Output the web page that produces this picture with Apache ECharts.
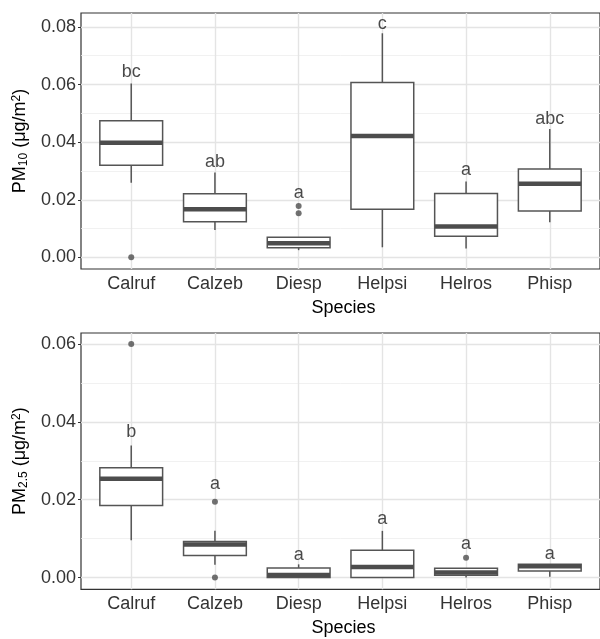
<!DOCTYPE html>
<html><head><meta charset="utf-8">
<script src="https://cdn.jsdelivr.net/npm/echarts@6/dist/echarts.min.js"></script>
<style>html,body{margin:0;padding:0;background:#fff}#c{width:600px;height:639px}</style>
</head><body><div id="c"></div>
<script>
const species = ['Calruf', 'Calzeb', 'Diesp', 'Helpsi', 'Helros', 'Phisp'];

// PM10 panel: [lower whisker, Q1, median, Q3, upper whisker]
const pm10Stats = [
  [0.0259, 0.0320, 0.0398, 0.0474, 0.0604],
  [0.0095, 0.0124, 0.0167, 0.0221, 0.0295],
  [0.0025, 0.0033, 0.0049, 0.0070, 0.0070],
  [0.0035, 0.0167, 0.0421, 0.0607, 0.0778],
  [0.0031, 0.0073, 0.0107, 0.0222, 0.0263],
  [0.0122, 0.0161, 0.0256, 0.0307, 0.0446]
];
const pm10OutlierSpecies = ['Calruf', 'Diesp', 'Diesp'];
const pm10OutlierValues = [0.0000, 0.0178, 0.0153];
const pm10Letters = ['bc', 'ab', 'a', 'c', 'a', 'abc'];
const pm10LetterY = [0.0643, 0.0330, 0.0223, 0.0811, 0.0302, 0.0481];
const pm10Ticks = [0, 0.02, 0.04, 0.06, 0.08];
const pm10Minor = [0.01, 0.03, 0.05, 0.07];
const pm10Range = [-0.00404, 0.08484];

// PM2.5 panel
const pm25Stats = [
  [0.0096, 0.0185, 0.0254, 0.0282, 0.0339],
  [0.0033, 0.0057, 0.0085, 0.0093, 0.0120],
  [0.0000, 0.0000, 0.0007, 0.0025, 0.0034],
  [0.0000, 0.0000, 0.0027, 0.0070, 0.0120],
  [0.0000, 0.0006, 0.0013, 0.0024, 0.0024],
  [0.0002, 0.0017, 0.0029, 0.0034, 0.0034]
];
const pm25OutlierSpecies = ['Calruf', 'Calzeb', 'Calzeb', 'Helros'];
const pm25OutlierValues = [0.0600, 0.0195, 0.0000, 0.0051];
const pm25Letters = ['b', 'a', 'a', 'a', 'a', 'a'];
const pm25LetterY = [0.0375, 0.0240, 0.0058, 0.0150, 0.0086, 0.0060];
const pm25Ticks = [0, 0.02, 0.04, 0.06];
const pm25Minor = [0.01, 0.03, 0.05];
const pm25Range = [-0.0030, 0.0628];

const FONT = 'Liberation Sans, Arial, sans-serif';
const positions = species.map((s, i) => i + 1);

const panels = [
  { stats: pm10Stats, oSp: pm10OutlierSpecies, oV: pm10OutlierValues, letters: pm10Letters, letterY: pm10LetterY,
    ticks: pm10Ticks, minor: pm10Minor, range: pm10Range, sub: '10', top: 13, height: 256 },
  { stats: pm25Stats, oSp: pm25OutlierSpecies, oV: pm25OutlierValues, letters: pm25Letters, letterY: pm25LetterY,
    ticks: pm25Ticks, minor: pm25Minor, range: pm25Range, sub: '2.5', top: 333, height: 256.3 }
];

const grids = [], xAxes = [], yAxes = [], series = [];
panels.forEach((p, k) => {
  grids.push({ left: 81, top: p.top, width: 529.5, height: p.height, show: true,
    borderColor: '#333', borderWidth: 1.2, backgroundColor: '#fff' });
  xAxes.push({
    gridIndex: k, type: 'value', min: 0.4, max: 6.6,
    axisLine: { show: false }, splitLine: { show: false },
    axisTick: { show: true, customValues: positions, length: 3, lineStyle: { color: '#333', width: 1 } },
    axisLabel: { customValues: positions, formatter: v => species[Math.round(v) - 1], fontSize: 18,
      color: '#333', margin: 6, fontFamily: FONT },
    name: 'Species', nameLocation: 'middle', nameGap: 30,
    nameTextStyle: { fontSize: 18, color: '#000', fontFamily: FONT, padding: [0, 0, 0, 6] }
  });
  yAxes.push({
    gridIndex: k, type: 'value', min: p.range[0], max: p.range[1],
    axisLine: { show: false }, splitLine: { show: false },
    axisTick: { show: true, customValues: p.ticks, length: 3, lineStyle: { color: '#333', width: 1 } },
    axisLabel: { customValues: p.ticks, formatter: v => v.toFixed(2), fontSize: 18, color: '#333',
      margin: 5, fontFamily: FONT },
    name: '{a|PM}{s|' + p.sub + '}{a| (μg/m}{p|2}{a|)}',
    nameLocation: 'middle', nameGap: 37, nameRotate: 90,
    nameTextStyle: {
      fontFamily: FONT, color: '#000',
      rich: {
        a: { fontSize: 18, lineHeight: 18, verticalAlign: 'top', color: '#000', fontFamily: FONT },
        s: { fontSize: 12, lineHeight: 12, verticalAlign: 'top', padding: [7, 0, 0, 0], color: '#000', fontFamily: FONT },
        p: { fontSize: 12, lineHeight: 12, verticalAlign: 'top', color: '#000', fontFamily: FONT }
      }
    }
  });
  const major = { width: 1.4, color: '#E4E4E4', type: 'solid' };
  const minorS = { width: 0.8, color: '#EDEDED', type: 'solid' };
  series.push({
    type: 'scatter', xAxisIndex: k, yAxisIndex: k, data: [], silent: true, z: 1,
    markLine: {
      silent: true, z: 1, symbol: ['none', 'none'], label: { show: false }, animation: false,
      lineStyle: { type: 'solid' },
      data: [].concat(
        p.minor.map(v => ({ yAxis: v, lineStyle: minorS })),
        p.ticks.map(v => ({ yAxis: v, lineStyle: major })),
        positions.map(v => ({ xAxis: v, lineStyle: major }))
      )
    }
  });
  series.push({
    type: 'custom', xAxisIndex: k, yAxisIndex: k, z: 3,
    dimensions: ['x', 'lo', 'q1', 'med', 'q3', 'hi'],
    encode: { x: 'x', y: ['lo', 'q1', 'med', 'q3', 'hi'] },
    data: p.stats.map((s, i) => [positions[i]].concat(s)),
    renderItem: function (params, api) {
      const x = api.value(0);
      const pLo = api.coord([x, api.value(1)]);
      const pQ1 = api.coord([x, api.value(2)]);
      const pMed = api.coord([x, api.value(3)]);
      const pQ3 = api.coord([x, api.value(4)]);
      const pHi = api.coord([x, api.value(5)]);
      const hw = api.size([0.75, 0])[0] / 2;
      const stroke = '#555';
      return {
        type: 'group', children: [
          { type: 'line', shape: { x1: pQ3[0], y1: pQ3[1], x2: pHi[0], y2: pHi[1] }, style: { stroke: stroke, lineWidth: 1.5 } },
          { type: 'line', shape: { x1: pQ1[0], y1: pQ1[1], x2: pLo[0], y2: pLo[1] }, style: { stroke: stroke, lineWidth: 1.5 } },
          { type: 'rect', shape: { x: pQ1[0] - hw, y: pQ3[1], width: 2 * hw, height: pQ1[1] - pQ3[1] },
            style: { fill: '#fff', stroke: stroke, lineWidth: 1.5 } },
          { type: 'line', shape: { x1: pMed[0] - hw, y1: pMed[1], x2: pMed[0] + hw, y2: pMed[1] },
            style: { stroke: '#4D4D4D', lineWidth: 4.5 } }
        ]
      };
    }
  });
  series.push({
    type: 'scatter', xAxisIndex: k, yAxisIndex: k, z: 4, symbol: 'circle', symbolSize: 6,
    itemStyle: { color: '#4D4D4D' },
    data: p.oSp.map((s, i) => [species.indexOf(s) + 1, p.oV[i]])
  });
  series.push({
    type: 'scatter', xAxisIndex: k, yAxisIndex: k, z: 5, symbolSize: 1,
    itemStyle: { color: 'rgba(0,0,0,0)' },
    label: { show: true, position: 'inside', formatter: d => d.value[2], fontSize: 18, color: '#1a1a1a', fontFamily: FONT },
    data: p.letters.map((l, i) => [positions[i], p.letterY[i], l])
  });
});

const chart = echarts.init(document.getElementById('c'), null, { renderer: 'canvas' });
chart.setOption({
  animation: false,
  backgroundColor: '#fff',
  textStyle: { fontFamily: FONT },
  grid: grids, xAxis: xAxes, yAxis: yAxes, series: series
});
</script></body></html>
